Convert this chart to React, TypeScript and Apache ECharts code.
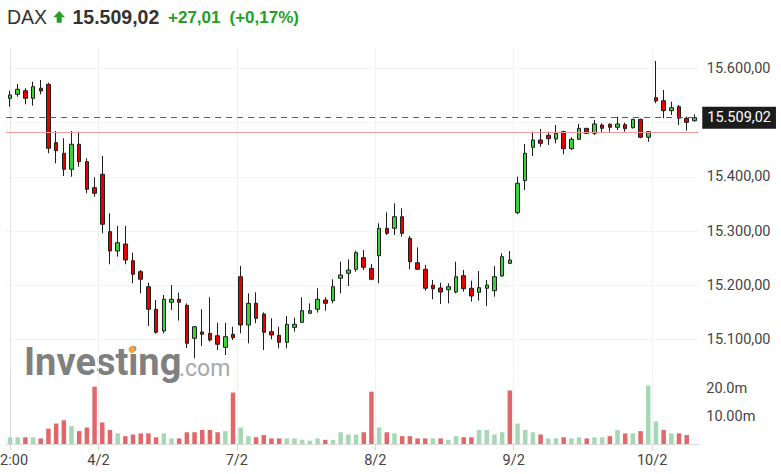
import React, { useEffect, useRef } from "react";
import * as echarts from "echarts";

const openPrices = [
  15544.7, 15552.1, 15558.7, 15544.7, 15563.2, 15570.5, 15462.9, 15443.4, 15413.9, 15460.0,
  15427.9, 15380.0, 15404.7, 15298.9, 15263.3, 15276.2, 15245.4, 15225.2, 15197.5, 15155.9,
  15115.9, 15168.8, 15174.3, 15163.2, 15102.4, 15114.0, 15111.6, 15107.2, 15085.8, 15109.8,
  15215.9, 15126.9, 15166.9, 15147.2, 15114.6, 15107.9, 15095.0, 15122.7, 15131.9, 15148.5,
  15155.9, 15173.0, 15171.7, 15213.0, 15222.2, 15229.6, 15251.0, 15231.4, 15254.6, 15305.1,
  15305.1, 15326.5, 15286.7, 15241.7, 15229.6, 15200.1, 15195.1, 15192.0, 15187.7, 15217.8,
  15194.6, 15187.2, 15194.6, 15190.1, 15217.2, 15240.6, 15333.9, 15392.9, 15454.4, 15467.9,
  15476.5, 15469.7, 15483.2, 15451.8, 15469.2, 15489.4, 15480.2, 15495.5, 15496.8, 15491.3,
  15496.1, 15490.5, 15506.0, 15472.9, 15545.8, 15540.3, 15521.9, 15529.3, 15507.9, 15503.4,
];
const closePrices = [
  15550.8, 15561.3, 15544.7, 15566.1, 15558.2, 15452.6, 15448.2, 15413.9, 15460.0, 15427.9,
  15377.0, 15369.7, 15312.5, 15263.3, 15278.6, 15246.7, 15220.4, 15211.2, 15155.9, 15113.5,
  15174.3, 15174.3, 15168.8, 15093.2, 15123.8, 15109.8, 15099.3, 15091.4, 15105.4, 15103.5,
  15126.9, 15166.9, 15139.3, 15113.5, 15108.5, 15095.0, 15128.2, 15128.2, 15153.3, 15153.3,
  15174.3, 15166.9, 15197.5, 15219.1, 15228.3, 15260.2, 15233.3, 15211.2, 15305.1, 15295.9,
  15326.5, 15295.9, 15243.6, 15229.6, 15194.6, 15193.8, 15187.7, 15197.5, 15215.9, 15193.8,
  15180.4, 15195.7, 15200.6, 15215.9, 15252.8, 15246.7, 15388.1, 15443.4, 15467.9, 15461.8,
  15470.3, 15480.2, 15451.8, 15469.2, 15489.4, 15480.2, 15497.4, 15489.4, 15491.3, 15497.4,
  15488.7, 15506.0, 15472.9, 15483.2, 15539.8, 15521.9, 15527.4, 15507.9, 15500.5, 15509.02,
];
const lowPrices = [
  15529.2, 15547.7, 15533.7, 15531.1, 15552.1, 15443.4, 15424.9, 15401.5, 15400.2, 15418.7,
  15369.7, 15363.4, 15295.9, 15238.8, 15252.8, 15238.8, 15203.8, 15185.3, 15125.1, 15111.0,
  15111.6, 15154.6, 15134.9, 15084.5, 15065.6, 15088.2, 15096.1, 15080.8, 15071.6, 15099.3,
  15111.6, 15093.2, 15130.1, 15080.8, 15100.6, 15084.0, 15084.0, 15114.6, 15130.5, 15147.2,
  15149.6, 15153.3, 15166.9, 15185.3, 15198.8, 15225.2, 15228.3, 15209.9, 15203.8, 15292.8,
  15292.8, 15289.7, 15229.6, 15228.3, 15190.1, 15174.3, 15165.6, 15166.9, 15185.3, 15188.3,
  15169.9, 15171.7, 15161.9, 15179.1, 15215.9, 15239.3, 15330.9, 15375.7, 15438.4, 15455.5,
  15458.7, 15461.8, 15441.5, 15449.4, 15467.9, 15479.0, 15477.1, 15481.3, 15483.2, 15486.3,
  15483.2, 15489.0, 15471.0, 15464.7, 15535.5, 15507.9, 15514.0, 15495.5, 15485.0, 15501.6,
];
const highPrices = [
  15558.7, 15571.1, 15563.2, 15575.3, 15578.5, 15573.5, 15484.5, 15471.0, 15484.5, 15483.2,
  15434.2, 15399.1, 15438.4, 15332.8, 15309.4, 15309.4, 15260.2, 15228.3, 15204.9, 15173.0,
  15182.2, 15200.6, 15186.5, 15166.9, 15125.0, 15155.9, 15178.0, 15131.2, 15131.2, 15123.8,
  15235.7, 15185.3, 15187.2, 15150.3, 15139.3, 15123.8, 15143.5, 15140.4, 15178.0, 15166.9,
  15194.6, 15178.0, 15211.2, 15243.6, 15248.0, 15263.9, 15265.1, 15239.3, 15314.4, 15334.6,
  15351.2, 15342.0, 15291.0, 15270.1, 15237.5, 15209.9, 15204.9, 15203.8, 15243.6, 15228.3,
  15208.6, 15226.4, 15209.9, 15235.7, 15259.1, 15263.3, 15400.2, 15460.5, 15483.2, 15488.2,
  15483.2, 15495.5, 15485.0, 15472.9, 15497.4, 15490.0, 15504.7, 15498.7, 15498.7, 15510.8,
  15499.8, 15507.0, 15507.0, 15484.0, 15613.5, 15560.0, 15538.5, 15532.4, 15510.8, 15515.2,
];

// volume in millions, and whether the bar is an "up" (green) bar
const volumeMillions = [
  2.4, 2.4, 2.4, 2.4, 2.0, 5.5, 7.3, 8.5, 6.4, 4.6,
  5.9, 20.5, 7.7, 5.0, 3.8, 2.8, 3.4, 3.8, 3.8, 2.4,
  3.8, 2.0, 2.0, 4.2, 4.2, 5.0, 5.0, 4.2, 4.6, 18.4,
  5.9, 2.8, 2.4, 3.2, 2.0, 2.0, 2.0, 2.0, 1.5, 1.2,
  2.0, 1.5, 1.5, 4.2, 3.4, 3.4, 4.2, 18.7, 5.9, 4.2,
  3.8, 2.8, 2.8, 2.0, 2.0, 2.0, 2.0, 1.5, 2.8, 2.4,
  2.4, 5.0, 5.0, 3.4, 4.2, 19.1, 7.3, 5.0, 4.2, 3.4,
  2.0, 2.0, 2.4, 2.0, 2.4, 2.0, 2.4, 2.4, 2.8, 5.0,
  3.8, 3.8, 4.6, 20.9, 8.1, 5.0, 3.8, 3.8, 3.2,
];
const volumeUp = [
  1, 1, 0, 1, 0, 0, 0, 0, 1, 0,
  0, 0, 0, 0, 1, 0, 0, 0, 0, 0,
  1, 1, 0, 0, 0, 0, 0, 0, 1, 0,
  1, 1, 0, 0, 0, 0, 1, 1, 1, 1,
  1, 0, 1, 1, 1, 1, 0, 0, 1, 0,
  1, 0, 0, 0, 0, 1, 0, 1, 1, 0,
  0, 1, 1, 1, 1, 0, 1, 1, 1, 0,
  1, 1, 0, 1, 1, 0, 1, 1, 0, 1,
  0, 1, 0, 1, 1, 0, 1, 0, 0,
];

const dayTickPositions = [0, 11.5, 29.5, 47.5, 65.5, 83.5];
const dayTickLabels = ["12:00", "4/2", "7/2", "8/2", "9/2", "10/2"];
const priceGridValues = [15100, 15200, 15300, 15400, 15500, 15600];
const priceLabelValues = [15100, 15200, 15300, 15400, 15600];
const volumeTickValues = [10, 20];
const volumeTickLabels = ["10.00m", "20.0m"];

const instrument = "DAX";
const lastPrice = 15509.02;
const prevClose = 15482.01;
const changeAbs = 27.01;
const changePct = 0.17;

const PRICE_MIN = 15044.0;
const PRICE_MAX = 15637.4;
const VOLUME_MAX = 26.1;

const UP = "#38d438";
const DOWN = "#e50000";
const VOL_UP = "#a6d8b5";
const VOL_DOWN = "#e06868";
const GREEN_TEXT = "#23a023";

function fmtDe(v: number, digits = 2): string {
  const s = Math.abs(v).toFixed(digits);
  const [i, d] = s.split(".");
  const intPart = i.replace(/\B(?=(\d{3})+(?!\d))/g, ".");
  return (v < 0 ? "-" : "") + intPart + (d !== undefined ? "," + d : "");
}

export default function App() {
  const ref = useRef<HTMLDivElement>(null);

  useEffect(() => {
    if (!ref.current) return;
    const chart = echarts.init(ref.current, undefined, { renderer: "svg" });
    const n = openPrices.length;
    const cats = openPrices.map((_, i) => String(i));
    const candleData = openPrices.map((o, i) => [o, closePrices[i], lowPrices[i], highPrices[i]]);
    const volData = volumeMillions.map((v, i) => ({
      value: v,
      itemStyle: { color: volumeUp[i] ? VOL_UP : VOL_DOWN },
    }));

    const gridLeft = 6.15;
    const gridRight = 82.75;
    const axisFont = "Roboto, sans-serif";
    const headerFont = '"Liberation Sans", Arial, sans-serif';

    const option: any = {
      animation: false,
      backgroundColor: "#ffffff",
      textStyle: { fontFamily: axisFont },
      grid: [
        { left: gridLeft, right: gridRight, top: 48, height: 322, containLabel: false, outerBoundsMode: "none" },
        { left: gridLeft, right: gridRight, top: 371, height: 73, containLabel: false, outerBoundsMode: "none" },
      ],
      xAxis: [
        { type: "category", gridIndex: 0, data: cats, position: "bottom", show: false },
        {
          type: "value",
          gridIndex: 0,
          min: -0.5,
          max: n - 0.5,
          position: "top",
          axisLine: { show: false },
          axisLabel: { show: false },
          axisTick: { show: false, customValues: dayTickPositions.slice(1) },
          splitLine: { show: true, lineStyle: { color: "#f1f1f1", width: 1 } },
        },
        {
          type: "category",
          gridIndex: 1,
          data: cats,
          position: "top",
          axisLine: { show: true, lineStyle: { color: "#c9c9c9", width: 1 } },
          axisTick: { show: false },
          axisLabel: { show: false },
          splitLine: { show: false },
        },
        {
          type: "value",
          gridIndex: 1,
          min: -0.5,
          max: n - 0.5,
          position: "bottom",
          axisLine: { show: true, lineStyle: { color: "#dadada", width: 1 } },
          axisTick: {
            show: true,
            customValues: dayTickPositions,
            length: 6,
            lineStyle: { color: "#cfd6e0" },
          },
          axisLabel: {
            customValues: dayTickPositions,
            formatter: (v: number) => {
              const k = dayTickPositions.indexOf(v);
              return k >= 0 ? dayTickLabels[k] : "";
            },
            color: "#444",
            fontSize: 14.5,
            fontFamily: axisFont,
            margin: 9,
          },
          splitLine: { show: true, lineStyle: { color: "#f1f1f1", width: 1 } },
        },
      ],
      yAxis: [
        {
          type: "value",
          gridIndex: 0,
          position: "right",
          min: PRICE_MIN,
          max: PRICE_MAX,
          axisLine: { show: true, lineStyle: { color: "#e3e3e3" } },
          axisTick: { show: false, customValues: priceGridValues },
          axisLabel: {
            customValues: priceLabelValues,
            formatter: (v: number) => fmtDe(v),
            color: "#444",
            fontSize: 14.5,
            fontFamily: axisFont,
            margin: 8.5,
          },
          splitLine: { show: true, lineStyle: { color: "#f2f2f2", width: 1 } },
        },
        {
          type: "value",
          gridIndex: 1,
          position: "right",
          min: 0,
          max: VOLUME_MAX,
          axisLine: { show: true, lineStyle: { color: "#dadada" } },
          axisTick: { show: false, customValues: volumeTickValues },
          axisLabel: {
            customValues: volumeTickValues,
            formatter: (v: number) => {
              const k = volumeTickValues.indexOf(v);
              return k >= 0 ? volumeTickLabels[k] : "";
            },
            color: "#444",
            fontSize: 14.5,
            fontFamily: axisFont,
            margin: 8,
          },
          splitLine: { show: false },
        },
      ],
      series: [
        {
          type: "candlestick",
          xAxisIndex: 0,
          yAxisIndex: 0,
          data: candleData,
          barWidth: 4,
          z: 3,
          itemStyle: {
            color: UP,
            color0: DOWN,
            borderColor: "#1e1e1e",
            borderColor0: "#1e1e1e",
            borderWidth: 1,
          },
          markLine: {
            silent: true,
            animation: false,
            symbol: ["none", "none"],
            precision: 2,
            data: [
              {
                yAxis: prevClose,
                lineStyle: { color: "#f29a9a", width: 1, type: "solid" },
                label: { show: false },
              },
              {
                yAxis: lastPrice,
                lineStyle: { color: "#5a5a5a", width: 1, type: [6, 5] },
                label: {
                  show: true,
                  position: "end",
                  distance: 4,
                  formatter: () => fmtDe(lastPrice),
                  color: "#ffffff",
                  backgroundColor: "#1c1c1c",
                  padding: [4, 5, 3, 5],
                  fontSize: 14.5,
                  fontFamily: axisFont,
                },
              },
            ],
          },
        },
        {
          type: "bar",
          xAxisIndex: 2,
          yAxisIndex: 1,
          data: volData,
          barWidth: 4.5,
        },
      ],
      graphic: [
        {
          type: "text",
          x: 7,
          y: 17,
          style: { text: instrument, fill: "#333", fontSize: 19.5, fontFamily: headerFont, verticalAlign: "middle" },
        },
        {
          type: "polygon",
          shape: {
            points: [
              [59.2, 11],
              [65, 17.3],
              [61.7, 17.3],
              [61.7, 22.7],
              [56.7, 22.7],
              [56.7, 17.3],
              [53.3, 17.3],
            ],
          },
          style: { fill: GREEN_TEXT },
        },
        {
          type: "text",
          x: 72.5,
          y: 17,
          style: {
            text: fmtDe(lastPrice),
            fill: "#333",
            fontSize: 19.5,
            fontWeight: "bold",
            fontFamily: headerFont,
            verticalAlign: "middle",
          },
        },
        {
          type: "text",
          x: 168,
          y: 17,
          style: {
            text: "+" + fmtDe(changeAbs),
            fill: GREEN_TEXT,
            fontSize: 17,
            fontWeight: "bold",
            fontFamily: headerFont,
            verticalAlign: "middle",
          },
        },
        {
          type: "text",
          x: 229.5,
          y: 17,
          style: {
            text: "(+" + fmtDe(changePct) + "%)",
            fill: GREEN_TEXT,
            fontSize: 17,
            fontWeight: "bold",
            fontFamily: headerFont,
            verticalAlign: "middle",
          },
        },
        {
          type: "text",
          x: 24,
          y: 362,
          z: 0,
          style: {
            text: "Investing",
            fill: "#808080",
            fontSize: 38,
            fontWeight: "bold",
            fontFamily: axisFont,
            verticalAlign: "middle",
          },
        },
        {
          type: "text",
          x: 179,
          y: 368,
          z: 0,
          style: {
            text: ".com",
            fill: "#a8a8a8",
            fontSize: 23,
            fontFamily: axisFont,
            verticalAlign: "middle",
          },
        },
        {
          type: "circle",
          z: 1,
          shape: { cx: 132, cy: 349.5, r: 3.5 },
          style: { fill: "#f5a540" },
        },
      ],
    };

    chart.setOption(option);
    return () => chart.dispose();
  }, []);

  return (
    <div
      ref={ref}
      style={{ position: "absolute", left: 0, top: 0, width: 781, height: 474, background: "#fff" }}
    />
  );
}
